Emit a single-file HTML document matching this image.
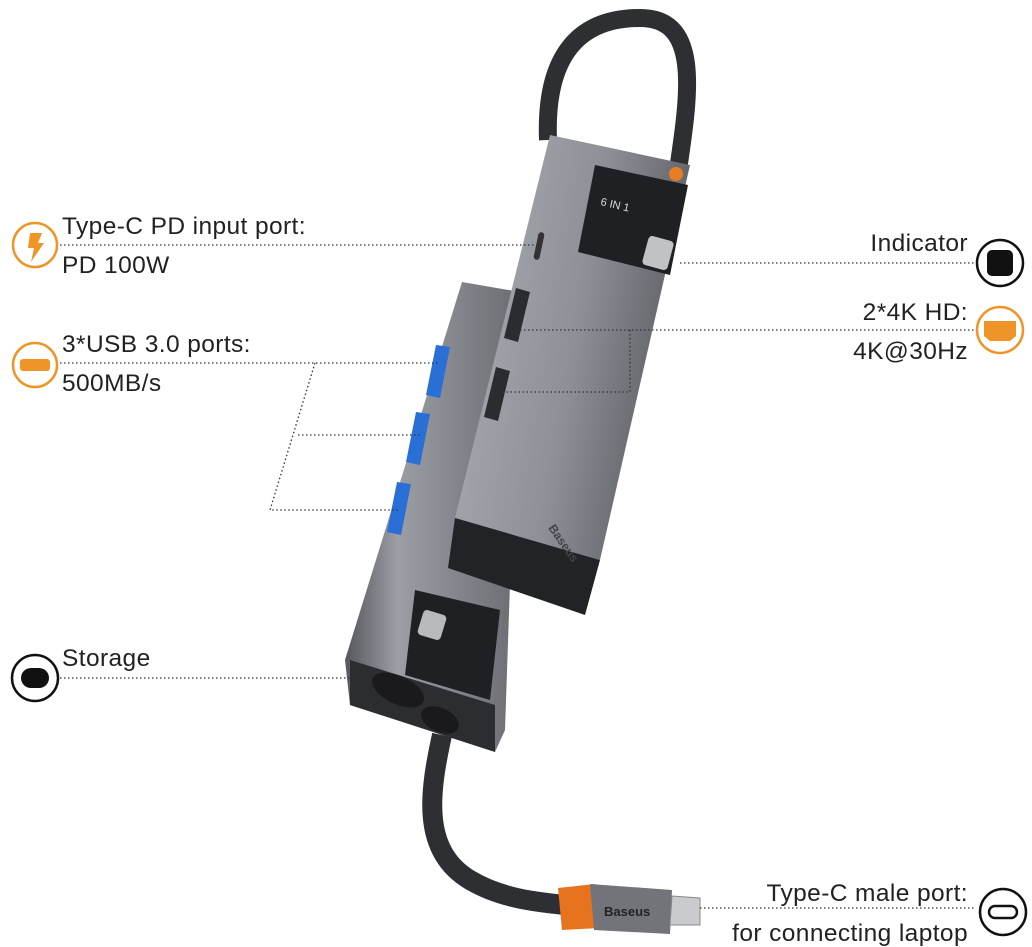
<!DOCTYPE html>
<html><head><meta charset="utf-8"><style>
html,body{margin:0;padding:0;background:#fff;}
svg{display:block;}
text{font-family:"Liberation Sans",sans-serif;font-size:24.5px;fill:#222;letter-spacing:0.4px;}
</style></head><body>
<svg width="1032" height="947" viewBox="0 0 1032 947" xmlns="http://www.w3.org/2000/svg">
<defs>
<linearGradient id="g1" x1="0" y1="0" x2="1" y2="0.3">
<stop offset="0" stop-color="#6b6d74"/><stop offset="0.2" stop-color="#a3a5ac"/><stop offset="0.6" stop-color="#8e9097"/><stop offset="1" stop-color="#5e6066"/></linearGradient>
<linearGradient id="g2" x1="0" y1="0" x2="1" y2="0">
<stop offset="0" stop-color="#55575d"/><stop offset="0.3" stop-color="#9c9ea5"/><stop offset="1" stop-color="#6a6c72"/></linearGradient>
</defs>
<!-- top cable -->
<path d="M548,140 C545,60 575,18 640,18 C700,18 690,90 678,170" fill="none" stroke="#2e2f33" stroke-width="18"/>
<!-- bottom cable -->
<path d="M442,735 C430,790 420,850 470,880 C500,898 535,902 565,905" fill="none" stroke="#2e2f33" stroke-width="20"/>
<!-- left device -->
<polygon points="462,282 520,292 505,730 495,752 350,705 345,660" fill="url(#g2)"/>
<polygon points="350,660 495,705 495,752 350,705" fill="#2c2d31"/>
<polygon points="415,590 500,610 490,700 405,675" fill="#1f2024"/>
<rect x="420" y="612" width="24" height="26" rx="4" fill="#b8babd" transform="rotate(17 432 625)"/>
<ellipse cx="398" cy="690" rx="28" ry="14" fill="#1a1a1d" transform="rotate(25 398 690)"/>
<ellipse cx="440" cy="720" rx="20" ry="12" fill="#1a1a1d" transform="rotate(25 440 720)"/>
<!-- usb ports -->
<g fill="#2a6fd6"><polygon points="436,345 450,347 440,398 426,395"/><polygon points="416,412 430,414 420,465 406,462"/><polygon points="397,482 411,484 401,535 387,532"/></g>
<!-- right device -->
<polygon points="550,135 690,165 600,560 455,518" fill="url(#g1)"/>
<polygon points="455,518 600,560 585,615 448,568" fill="#222327"/>
<polygon points="595,165 688,185 670,275 578,252" fill="#1f2024"/>
<rect x="645" y="238" width="26" height="30" rx="4" fill="#c0c2c5" transform="rotate(15 658 253)"/>
<circle cx="676" cy="174" r="7" fill="#e87d22"/>
<text x="600" y="205" transform="rotate(13 600 205)" style="font-size:11px;fill:#ddd;letter-spacing:0">6 IN 1</text>
<text x="548" y="528" transform="rotate(55 548 528)" style="font-size:12px;fill:#444;font-weight:bold;letter-spacing:0">Baseus</text>
<!-- hdmi ports -->
<g fill="#2b2c30"><polygon points="516,288 530,292 518,342 504,338"/><polygon points="496,367 510,371 498,421 484,417"/></g>
<rect x="536" y="232" width="6" height="28" rx="3" fill="#333" transform="rotate(12 539 246)"/>
<!-- connector -->
<polygon points="558,888 595,884 600,928 562,930" fill="#e8731f"/>
<polygon points="590,884 672,890 670,934 594,930" fill="#72747a"/>
<text x="604" y="916" style="font-size:13px;font-weight:bold;fill:#222;letter-spacing:0">Baseus</text>
<polygon points="672,896 700,898 700,925 670,925" fill="#c9cbce" stroke="#888" stroke-width="1"/>
<!-- dotted lines -->
<g fill="none" stroke="#333" stroke-width="1.3" stroke-dasharray="1.5 2.5">
<line x1="60" y1="245" x2="540" y2="245"/>
<line x1="60" y1="363" x2="440" y2="363"/>
<polyline points="315,363 270,510 400,510"/>
<line x1="298" y1="435" x2="420" y2="435"/>
<line x1="680" y1="263" x2="975" y2="263"/>
<line x1="520" y1="330" x2="975" y2="330"/>
<polyline points="630,330 630,392 505,392"/>
<line x1="60" y1="678" x2="360" y2="678"/>
<line x1="700" y1="908" x2="976" y2="908"/>
</g>
<!-- icons -->
<circle cx="35" cy="245" r="22" fill="#fff" stroke="#ef9427" stroke-width="2.5"/>
<path d="M30,233 L42,233 L38,243 L44,243 L31,262 L34,248 L28,248 Z" fill="#ef9427"/>
<circle cx="35" cy="365" r="22" fill="#fff" stroke="#ef9427" stroke-width="2.5"/>
<rect x="20" y="359" width="30" height="12" rx="3" fill="#ef9427"/>
<circle cx="1000" cy="263" r="23" fill="#fff" stroke="#111" stroke-width="2.5"/>
<rect x="987" y="250" width="26" height="26" rx="5" fill="#111"/>
<circle cx="1000" cy="330" r="23" fill="#fff" stroke="#ef9427" stroke-width="2.5"/>
<path d="M984,321 L1016,321 L1016,336 L1010,341 L990,341 L984,336 Z" fill="#ef9427"/>
<circle cx="35" cy="678" r="23" fill="#fff" stroke="#111" stroke-width="2.5"/>
<rect x="21" y="668" width="28" height="20" rx="10" fill="#111"/>
<circle cx="1003" cy="912" r="23" fill="#fff" stroke="#111" stroke-width="2.5"/>
<rect x="989" y="906" width="28" height="12" rx="6" fill="none" stroke="#111" stroke-width="2.5"/>
<!-- labels -->
<text x="62" y="234">Type-C PD input port:</text>
<text x="62" y="273">PD 100W</text>
<text x="62" y="352">3*USB 3.0 ports:</text>
<text x="62" y="391">500MB/s</text>
<text x="968" y="251" text-anchor="end">Indicator</text>
<text x="968" y="320" text-anchor="end">2*4K HD:</text>
<text x="968" y="359" text-anchor="end">4K@30Hz</text>
<text x="62" y="666">Storage</text>
<text x="968" y="901" text-anchor="end">Type-C male port:</text>
<text x="968" y="941" text-anchor="end">for connecting laptop</text>
</svg>
</body></html>
